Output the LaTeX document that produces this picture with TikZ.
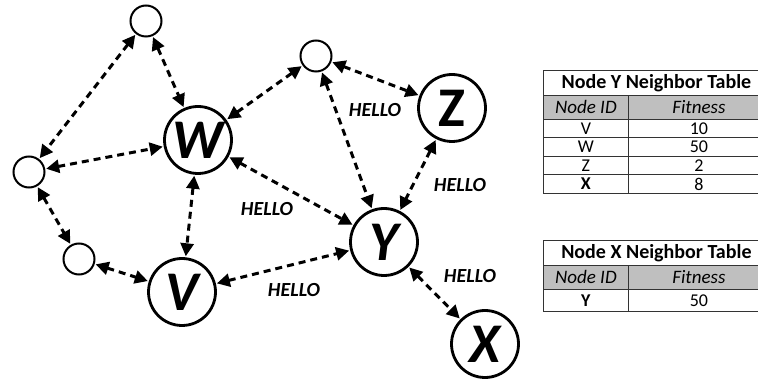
\documentclass[tikz,border=0pt]{standalone}
\usepackage{fontspec}
\setmainfont{Carlito}
\usetikzlibrary{arrows.meta}
\begin{document}
\begin{tikzpicture}[x=1pt,y=-1pt,
  big/.style={circle,draw,line width=2.8pt,minimum size=67pt,inner sep=0pt,font=\fontsize{56}{56}\selectfont\bfseries\itshape},
  small/.style={circle,draw,line width=2pt,minimum size=31pt,inner sep=0pt},
  link/.style={line width=3pt,dash pattern=on 7pt off 5pt,{Triangle[length=13pt,width=13pt]}-{Triangle[length=13pt,width=13pt]},shorten >=1pt,shorten <=1pt},
  hello/.style={font=\fontsize{20}{20}\selectfont\bfseries\itshape},
  cell/.style={draw=black!80,line width=0.8pt,anchor=north west,inner sep=0pt,font=\fontsize{18}{18}\selectfont},
  head/.style={cell,fill=black!25,font=\fontsize{19}{19}\selectfont\itshape},
  ttl/.style={cell,font=\fontsize{20}{20}\selectfont\bfseries},
]
\useasboundingbox (0,0) rectangle (758,379);
% nodes
\node[small] (t)  at (146,21) {};
\node[small] (m)  at (316,56) {};
\node[small] (l)  at (29,172) {};
\node[small] (bl) at (79,259) {};
\node[big] (w) at (198,140) {W};
\node[big] (v) at (182,292) {V};
\node[big] (y) at (384,242) {Y};
\node[big,font=\fontsize{56}{56}\selectfont\bfseries] (z) at (452,108) {Z};
\node[big] (x) at (485,344) {X};
% links
\draw[link] (t) -- (l);
\draw[link] (t) -- (w);
\draw[link] (l) -- (w);
\draw[link] (l) -- (bl);
\draw[link] (bl) -- (v);
\draw[link] (w) -- (v);
\draw[link] (w) -- (m);
\draw[link] (m) -- (z);
\draw[link] (m) -- (y);
\draw[link] (w) -- (y);
\draw[link] (v) -- (y);
\draw[link] (z) -- (y);
\draw[link] (y) -- (x);
% labels
\node[hello] (h1) at (375,110) {HELLO};
\node[hello] (h2) at (460,185) {HELLO};
\node[hello] (h3) at (267,209) {HELLO};
\node[hello] (h4) at (294,290) {HELLO};
\node[hello] (h5) at (470,276) {HELLO};
% table Y
\node[ttl,minimum width=226pt,minimum height=25pt] (ty) at (543,70) {Node Y Neighbor Table};
\node[head,minimum width=85pt,minimum height=24pt] (tyh1) at (543,95) {Node ID};
\node[head,minimum width=141pt,minimum height=24pt] (tyh2) at (628,95) {Fitness};
\node[cell,minimum width=85pt,minimum height=18.5pt] (ya1) at (543,119) {V};
\node[cell,minimum width=141pt,minimum height=18.5pt] (ya2) at (628,119) {10};
\node[cell,minimum width=85pt,minimum height=18.5pt] (yb1) at (543,137.5) {W};
\node[cell,minimum width=141pt,minimum height=18.5pt] (yb2) at (628,137.5) {50};
\node[cell,minimum width=85pt,minimum height=18.5pt] (yc1) at (543,156) {Z};
\node[cell,minimum width=141pt,minimum height=18.5pt] (yc2) at (628,156) {2};
\node[cell,minimum width=85pt,minimum height=18.5pt,font=\fontsize{18}{18}\selectfont\bfseries] (yd1) at (543,174.5) {X};
\node[cell,minimum width=141pt,minimum height=18.5pt] (yd2) at (628,174.5) {8};
% table X
\node[ttl,minimum width=226pt,minimum height=25pt] (tx) at (543,240) {Node X Neighbor Table};
\node[head,minimum width=85pt,minimum height=24pt] (txh1) at (543,265) {Node ID};
\node[head,minimum width=141pt,minimum height=24pt] (txh2) at (628,265) {Fitness};
\node[cell,minimum width=85pt,minimum height=22pt,font=\fontsize{18}{18}\selectfont\bfseries] (xa1) at (543,289) {Y};
\node[cell,minimum width=141pt,minimum height=22pt] (xa2) at (628,289) {50};
\end{tikzpicture}
\end{document}
